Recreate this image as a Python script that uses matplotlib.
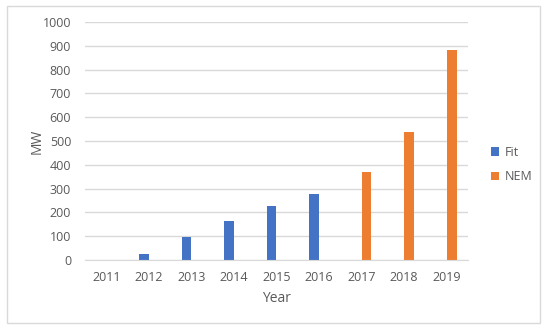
import numpy as np
import matplotlib
matplotlib.use("Agg")
import matplotlib.pyplot as plt
from matplotlib.patches import Rectangle

# data
years = ["2011", "2012", "2013", "2014", "2015", "2016", "2017", "2018", "2019"]
fit_mw = [0, 24, 97, 165, 228, 279, 0, 0, 0]
nem_mw = [0, 0, 0, 0, 0, 0, 370, 536, 882]
y_ticks = [0, 100, 200, 300, 400, 500, 600, 700, 800, 900, 1000]

plt.rcParams['font.family'] = ['Open Sans', 'DejaVu Sans']
GREY = '#595959'

fig = plt.figure(figsize=(5.5, 3.3), dpi=100)
ax = fig.add_axes([85 / 550, 1 - 260 / 330, 383 / 550, 238 / 330])

# outer chart frame
fig.patches.append(Rectangle((7 / 550, 1 - 323 / 330), 533 / 550, 317 / 330,
                             transform=fig.transFigure, fill=False,
                             edgecolor='#d9d9d9', linewidth=1))

x = np.arange(len(years))
w = 0.23
ax.bar(x - w / 2, fit_mw, width=w, color='#4472C4', label='Fit')
ax.bar(x + w / 2, nem_mw, width=w, color='#ED7D31', label='NEM')

ax.set_xlim(-0.5, len(years) - 0.5)
ax.set_ylim(0, 1000)
ax.set_yticks(y_ticks)
ax.set_xticks(x)
ax.set_xticklabels(years)
ax.grid(axis='y', color='#d9d9d9', linewidth=1)
ax.set_axisbelow(True)
for s in ['top', 'right', 'left']:
    ax.spines[s].set_visible(False)
ax.spines['bottom'].set_color('#d9d9d9')
ax.tick_params(length=0, labelsize=9, colors=GREY, pad=8)
ax.tick_params(axis='y', pad=10)

ax.set_xlabel('Year', fontsize=10, color=GREY, labelpad=5)
ax.set_ylabel('MW', fontsize=10, color=GREY)
ax.yaxis.set_label_coords(-0.105, 0.5)

ax.legend(loc='center left', bbox_to_anchor=(1.03, 0.40), frameon=False,
          fontsize=9, labelcolor=GREY, handlelength=0.7, handleheight=0.7,
          handletextpad=0.4, labelspacing=0.9)

fig.savefig('out.png', dpi=100)
